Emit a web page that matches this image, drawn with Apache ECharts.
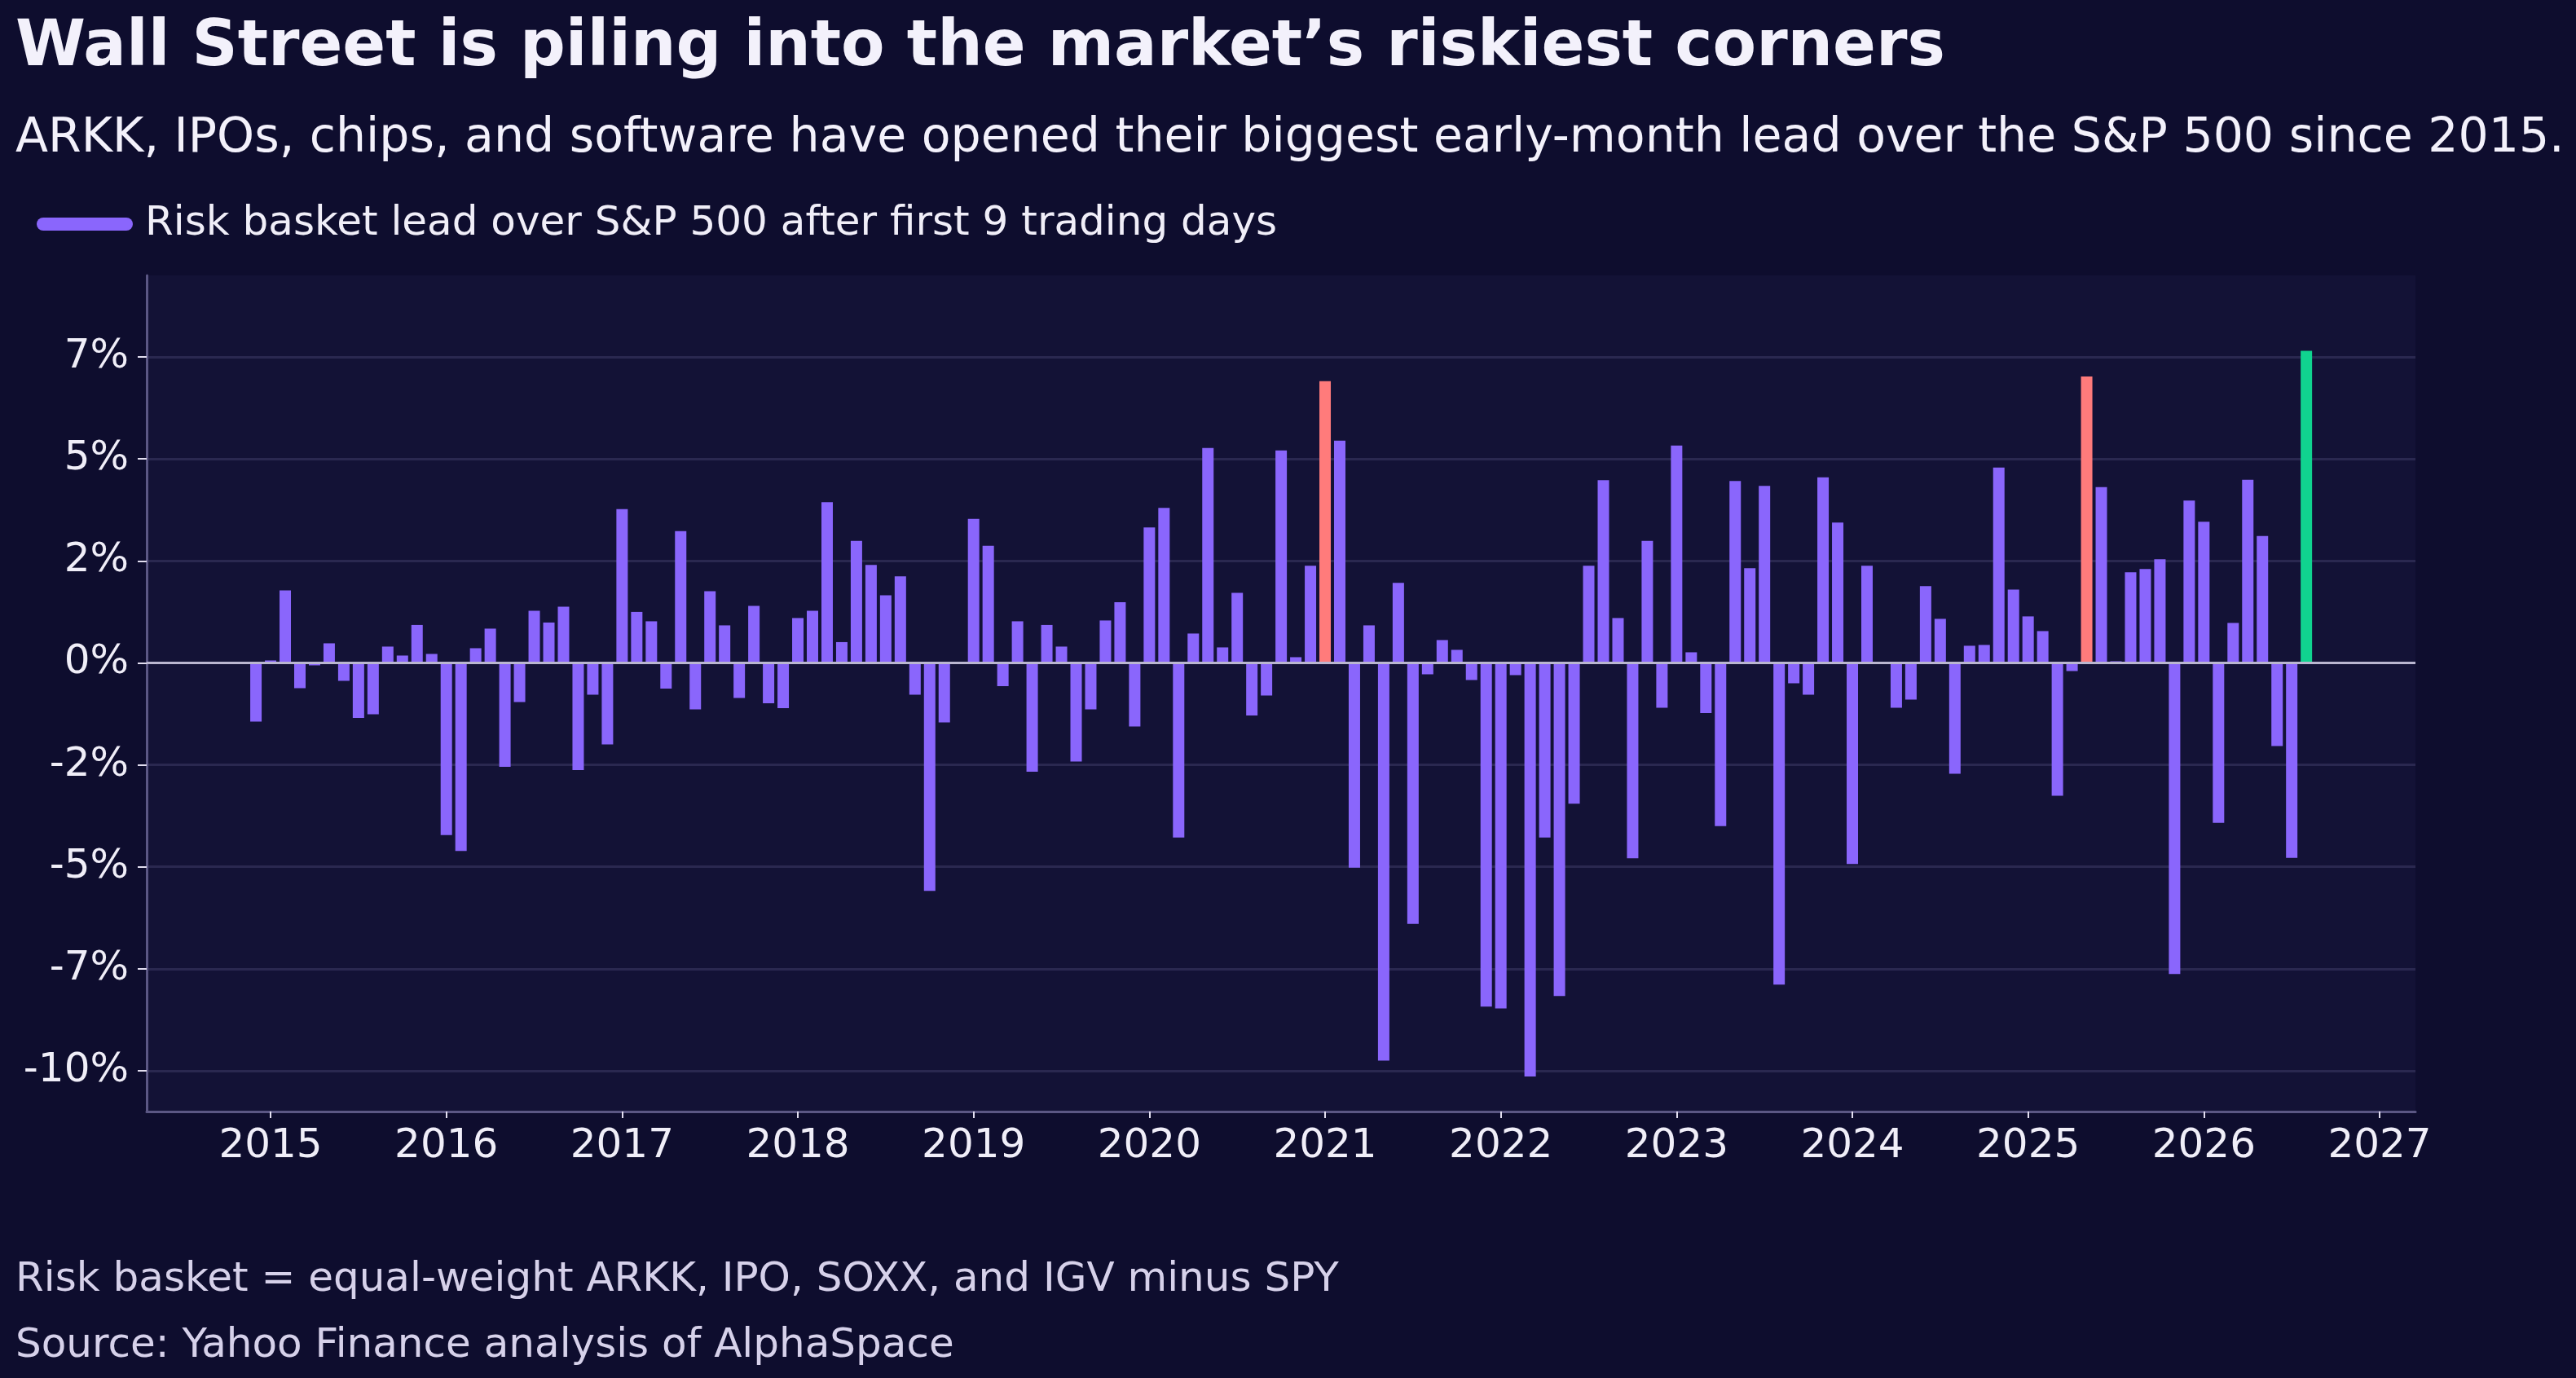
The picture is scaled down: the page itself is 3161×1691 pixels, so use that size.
<!DOCTYPE html>
<html lang="en">

<head>
  <meta charset="UTF-8">
  <title>Risk basket lead over S&amp;P 500</title>
  <script src="https://cdn.jsdelivr.net/npm/echarts@6/dist/echarts.min.js"></script>
  <style>
    html,
    body {
      margin: 0;
      padding: 0;
      background: #0e0d2e;
    }

    #chart {
      width: 100vw;
      height: 100vh;
    }
  </style>
</head>

<body>
  <div id="chart"></div>
  <script>
    // first bar is Dec 2014, one bar per month after that
    var firstYear = 2014;
    var firstMonth = 12;

    // risk basket lead over S&P 500 after first 9 trading days, in %
    var leadValues = [
      -1.44,
      0.06, 1.78, -0.62, -0.06, 0.48, -0.44, -1.35, -1.26, 0.40, 0.18, 0.93, 0.22,
      -4.22, -4.61, 0.36, 0.84, -2.55, -0.96, 1.28, 0.99, 1.38, -2.63, -0.78, -2.00,
      3.77, 1.25, 1.02, -0.63, 3.23, -1.14, 1.76, 0.92, -0.86, 1.40, -0.99, -1.11,
      1.10, 1.28, 3.94, 0.51, 2.99, 2.40, 1.66, 2.12, -0.78, -5.59, -1.46, -0.03,
      3.53, 2.87, -0.57, 1.02, -2.67, 0.93, 0.40, -2.42, -1.14, 1.04, 1.49, -1.56,
      3.32, 3.80, -4.28, 0.72, 5.27, 0.38, 1.72, -1.29, -0.80, 5.21, 0.14, 2.38,
      6.91, 5.45, -5.02, 0.92, -9.75, 1.96, -6.40, -0.28, 0.56, 0.32, -0.42, -8.43,
      -8.47, -0.30, -10.14, -4.28, -8.17, -3.45, 2.38, 4.48, 1.10, -4.79, 2.99, -1.10,
      5.33, 0.26, -1.23, -4.00, 4.46, 2.32, 4.34, -7.89, -0.50, -0.78, 4.55, 3.44,
      -4.93, 2.38, -0.02, -1.10, -0.90, 1.88, 1.08, -2.72, 0.42, 0.44, 4.79, 1.80,
      1.14, 0.78, -3.26, -0.20, 7.02, 4.31, 0.04, 2.22, 2.30, 2.54, -7.63, 3.98,
      3.46, -3.92, 0.98, 4.49, 3.11, -2.04, -4.78, 7.65
    ];

    // months drawn in other colours
    var redMonths = ['2021-01', '2025-05'];
    var latestMonth = '2026-08';

    var yearTicks = [2015, 2016, 2017, 2018, 2019, 2020, 2021, 2022, 2023, 2024, 2025, 2026, 2027];
    var yTicks = [-10, -7.5, -5, -2.5, 0, 2.5, 5, 7.5];
    var yTickLabels = ['-10%', '-7%', '-5%', '-2%', '0%', '2%', '5%', '7%'];

    var purple = '#8a66fc';
    var red = '#ff7b7b';
    var green = '#10d38f';
    var font = 'DejaVu Sans';

    // build [decimal year, value] points
    var barData = [];
    for (var i = 0; i < leadValues.length; i++) {
      var m0 = firstMonth - 1 + i;
      var y = firstYear + Math.floor(m0 / 12);
      var m = m0 % 12 + 1;
      var key = y + '-' + (m < 10 ? '0' + m : m);
      var color = purple;
      if (redMonths.indexOf(key) >= 0) color = red;
      if (key === latestMonth) color = green;
      barData.push({
        value: [y + (m - 1) / 12, leadValues[i]],
        itemStyle: { color: color }
      });
    }

    var myChart = echarts.init(document.getElementById('chart'));
    var option = {
      backgroundColor: '#0e0d2e',
      animation: false,
      title: [{
        text: 'Wall Street is piling into the market\u2019s riskiest corners',
        left: 14,
        top: 16,
        textStyle: { color: '#f3f1fb', fontSize: 78, fontWeight: 'bold', fontFamily: font }
      }, {
        text: 'ARKK, IPOs, chips, and software have opened their biggest early-month lead over the S&P 500 since 2015.',
        left: 14,
        top: 136,
        textStyle: { color: '#f3f1fb', fontSize: 58.5, fontWeight: 'normal', fontFamily: font }
      }, {
        text: 'Risk basket = equal-weight ARKK, IPO, SOXX, and IGV minus SPY',
        left: 14,
        top: 1541,
        textStyle: { color: '#d6d1ea', fontSize: 50, fontWeight: 'normal', fontFamily: font }
      }, {
        text: 'Source: Yahoo Finance analysis of AlphaSpace',
        left: 14,
        top: 1622,
        textStyle: { color: '#d6d1ea', fontSize: 50, fontWeight: 'normal', fontFamily: font }
      }],
      legend: {
        left: 40,
        top: 245,
        itemWidth: 118,
        itemHeight: 16,
        itemGap: 20,
        icon: 'path://M8,0 L110,0 A8,8 0 0 1 110,16 L8,16 A8,8 0 0 1 8,0 Z',
        textStyle: { color: '#f0eef8', fontSize: 50, fontFamily: font, padding: [0, 0, 0, 10] },
        data: ['Risk basket lead over S&P 500 after first 9 trading days']
      },
      grid: {
        left: 180,
        right: 197,
        top: 338,
        bottom: 327,
        show: true,
        backgroundColor: '#131236',
        borderWidth: 0
      },
      xAxis: {
        type: 'value',
        min: 2014.295,
        max: 2027.204,
        axisLine: { show: true, onZero: false, lineStyle: { color: '#5b5784', width: 3 } },
        axisTick: {
          show: true,
          customValues: yearTicks,
          length: 8,
          lineStyle: { color: '#e2def0', width: 2 }
        },
        axisLabel: {
          customValues: yearTicks,
          color: '#f0eef8',
          fontSize: 50,
          fontFamily: font,
          margin: 18,
          formatter: function (v) { return String(Math.round(v)); }
        },
        splitLine: { show: false }
      },
      yAxis: {
        type: 'value',
        min: -11.0,
        max: 9.5,
        axisLine: { show: true, lineStyle: { color: '#5b5784', width: 3 } },
        axisTick: {
          show: true,
          customValues: yTicks,
          length: 11,
          lineStyle: { color: '#e2def0', width: 2 }
        },
        axisLabel: {
          customValues: yTicks,
          color: '#f0eef8',
          fontSize: 50,
          fontFamily: font,
          margin: 22,
          formatter: function (v) {
            var k = yTicks.indexOf(v);
            return k >= 0 ? yTickLabels[k] : '';
          }
        },
        splitLine: { show: true, lineStyle: { color: '#2a2850', width: 3 } }
      },
      series: [{
        name: 'Risk basket lead over S&P 500 after first 9 trading days',
        type: 'bar',
        barWidth: 14,
        itemStyle: { color: purple },
        data: barData,
        markLine: {
          silent: true,
          symbol: ['none', 'none'],
          label: { show: false },
          lineStyle: { color: '#bab6d0', width: 3, type: 'solid' },
          data: [{ yAxis: 0 }]
        }
      }]
    };
    myChart.setOption(option);
  </script>
</body>

</html>
